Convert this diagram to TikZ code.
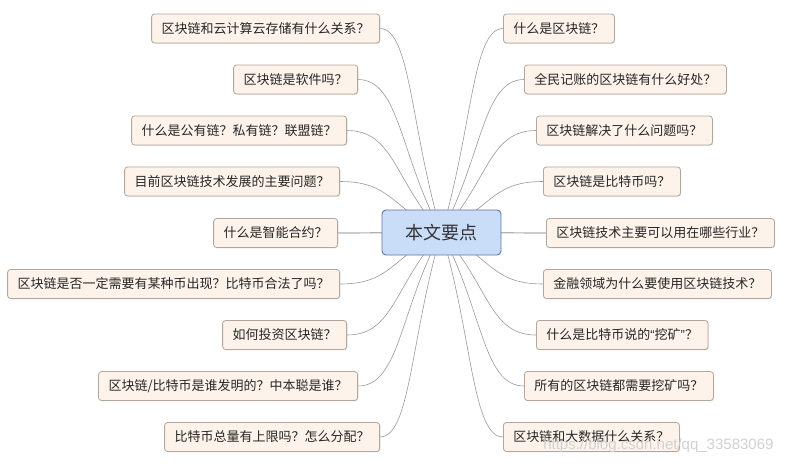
\documentclass[tikz,border=0pt]{standalone}
\usepackage{fontspec}
\newfontfamily\cjk{Noto Sans CJK SC}
\newfontfamily\markfont{Liberation Sans}
\usetikzlibrary{calc,backgrounds,shadows}
\definecolor{leaffill}{HTML}{FDF3EA}
\definecolor{leafline}{HTML}{B3A79C}
\definecolor{hubfill}{HTML}{C9DCF8}
\definecolor{hubline}{HTML}{5C76A8}
\definecolor{branchgray}{HTML}{9A9A9A}
\begin{document}
\begin{tikzpicture}[x=1pt, y=-1pt,
  leaf/.style={draw=leafline, line width=0.8pt, fill=leaffill, rounded corners=3pt,
    minimum height=29pt, inner xsep=10pt, font=\cjk\fontsize{13}{15}\selectfont,
    text=black!85, drop shadow={shadow xshift=0.8pt, shadow yshift=-0.8pt, fill=black!20}},
  hub/.style={draw=hubline, line width=0.9pt, fill=hubfill, rounded corners=4pt,
    minimum width=119pt, minimum height=45pt, font=\cjk\fontsize{18}{20}\selectfont, text=black!80},
  branch/.style={draw=branchgray, line width=0.6pt,
    to path={.. controls ($(\tikztostart)!0.5!(\tikztotarget)$)
      and ($(\tikztotarget)!0.5!(\tikztotarget -| \tikztostart)$) .. (\tikztotarget)}}]
  % page
  \useasboundingbox (0,0) rectangle (786,466);

  % central topic
  \node[hub] (hub) at (441.5,232.5) {本文要点};

  % left branches
  \node[leaf, anchor=east] (l1) at (380,28.5) {区块链和云计算云存储有什么关系？};
  \node[leaf, anchor=east] (l2) at (358,79.5) {区块链是软件吗？};
  \node[leaf, anchor=east] (l3) at (347,130.5) {什么是公有链？私有链？联盟链？};
  \node[leaf, anchor=east] (l4) at (340,181.5) {目前区块链技术发展的主要问题？};
  \node[leaf, anchor=east] (l5) at (338,233) {什么是智能合约？};
  \node[leaf, anchor=east] (l6) at (340,284) {区块链是否一定需要有某种币出现？比特币合法了吗？};
  \node[leaf, anchor=east] (l7) at (347,335) {如何投资区块链？};
  \node[leaf, anchor=east] (l8) at (358,386) {区块链/比特币是谁发明的？中本聪是谁？};
  \node[leaf, anchor=east] (l9) at (380,437) {比特币总量有上限吗？怎么分配？};

  % right branches
  \node[leaf, anchor=west] (r1) at (503,28.5) {什么是区块链？};
  \node[leaf, anchor=west] (r2) at (524,79.5) {全民记账的区块链有什么好处？};
  \node[leaf, anchor=west] (r3) at (536,130.5) {区块链解决了什么问题吗？};
  \node[leaf, anchor=west] (r4) at (543,181.5) {区块链是比特币吗？};
  \node[leaf, anchor=west] (r5) at (546,233) {区块链技术主要可以用在哪些行业？};
  \node[leaf, anchor=west] (r6) at (543,284) {金融领域为什么要使用区块链技术？};
  \node[leaf, anchor=west] (r7) at (536,335) {什么是比特币说的{\markfont “}挖矿{\markfont ”}？};
  \node[leaf, anchor=west] (r8) at (524,386) {所有的区块链都需要挖矿吗？};
  \node[leaf, anchor=west] (r9) at (503,437) {区块链和大数据什么关系？};

  % curved connectors behind the boxes
  \begin{scope}[on background layer]
    \fill[white] (0,0) rectangle (786,466);
    \draw[branch] (hub.center) to (l1.east);
    \draw[branch] (hub.center) to (l2.east);
    \draw[branch] (hub.center) to (l3.east);
    \draw[branch] (hub.center) to (l4.east);
    \draw[branch, line width=1.2pt, black!30] (hub.center) to (l5.east);
    \draw[branch] (hub.center) to (l6.east);
    \draw[branch] (hub.center) to (l7.east);
    \draw[branch] (hub.center) to (l8.east);
    \draw[branch] (hub.center) to (l9.east);
    \draw[branch] (hub.center) to (r1.west);
    \draw[branch] (hub.center) to (r2.west);
    \draw[branch] (hub.center) to (r3.west);
    \draw[branch] (hub.center) to (r4.west);
    \draw[branch, line width=1.2pt, black!30] (hub.center) to (r5.west);
    \draw[branch] (hub.center) to (r6.west);
    \draw[branch] (hub.center) to (r7.west);
    \draw[branch] (hub.center) to (r8.west);
    \draw[branch] (hub.center) to (r9.west);
  \end{scope}

  % watermark
  \node[font=\markfont\fontsize{15}{17}\selectfont, text=black!18, anchor=east] (mark) at (777,446)
    {https://blog.csdn.net/qq\_33583069};
\end{tikzpicture}
\end{document}
